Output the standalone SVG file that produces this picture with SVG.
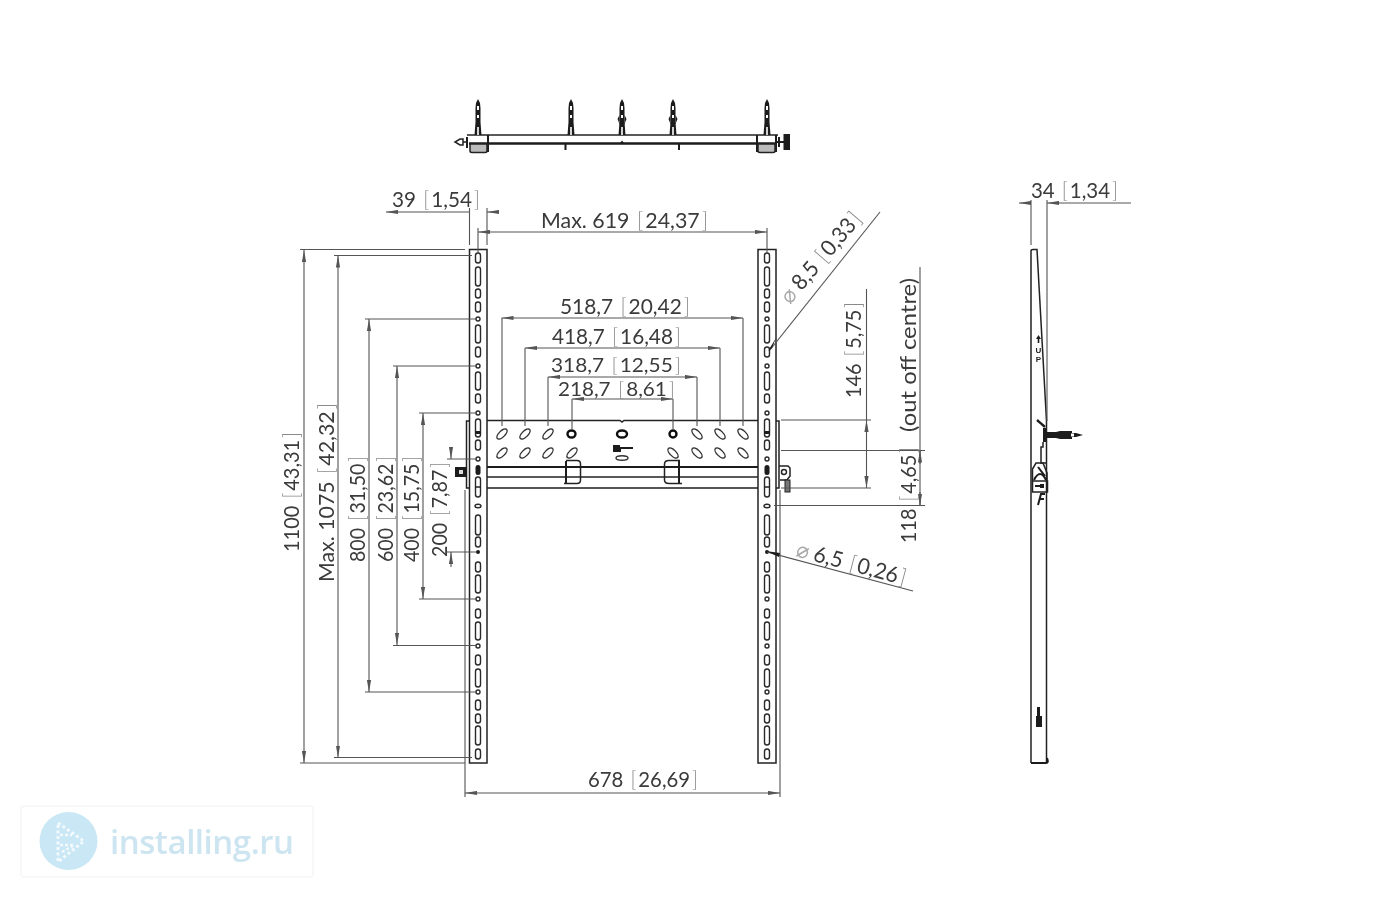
<svg xmlns="http://www.w3.org/2000/svg" xmlns:xlink="http://www.w3.org/1999/xlink" width="1400" height="900" viewBox="0 0 1400 900">
<style>
.t{font-family:"Lato","Liberation Sans",sans-serif;font-size:22px;fill:#3a3a3a;font-weight:400}
.n{font-size:20px}
.b{fill:#8a8a8a;font-weight:300}
.p{fill:#a8a8a8}
.d{fill:none;stroke:#555;stroke-width:1.1}
.e{fill:none;stroke:#555;stroke-width:1.1}
.a{marker-start:url(#ar);marker-end:url(#ar)}
.s{fill:none;stroke:#222;stroke-width:1.5}
.k{fill:none;stroke:#1c1c1c;stroke-width:2}
.f{fill:#1c1c1c;stroke:none}
.h{fill:#fff;stroke:#2a2a2a;stroke-width:1.4}
.o{fill:none;stroke:#333;stroke-width:1.4}
</style>
<defs>
<filter id="soft" x="-5%" y="-5%" width="110%" height="110%"><feGaussianBlur stdDeviation="0.35"/></filter>
<marker id="ar" viewBox="0 0 12 5" refX="12" refY="2.5" markerWidth="12" markerHeight="5" markerUnits="userSpaceOnUse" orient="auto-start-reverse"><path d="M0 0.4L12 2.5L0 4.6Z" fill="#555"/></marker>
<g id="railholes">
<rect class="h" x="475.500" y="253" width="5" height="10" rx="2.500"/>
<rect class="h" x="475.500" y="267" width="5" height="19" rx="2.500"/>
<rect class="h" x="475.500" y="289" width="5" height="9" rx="2.500"/>
<rect class="h" x="475.500" y="302" width="5" height="10" rx="2.500"/>
<circle class="h" cx="478" cy="319" r="2"/>
<rect class="h" x="475.500" y="325" width="5" height="18" rx="2.500"/>
<rect class="h" x="475.500" y="347" width="5" height="10" rx="2.500"/>
<circle class="h" cx="478" cy="366" r="2"/>
<rect class="h" x="475.500" y="372" width="5" height="18" rx="2.500"/>
<rect class="h" x="475.500" y="394" width="5" height="9" rx="2.500"/>
<circle class="h" cx="478" cy="413" r="2"/>
<rect class="h" x="475.500" y="419" width="5" height="18" rx="2.500"/>
<rect class="f" x="475.500" y="431" width="5" height="3"/>
<rect class="h" x="475.500" y="440" width="5" height="10" rx="2.500"/>
<circle class="h" cx="478" cy="459" r="2"/>
<rect class="f" x="475.500" y="465" width="5" height="10" rx="2.500"/>
<rect class="h" x="475.500" y="477" width="5" height="20" rx="2.500"/>
<line class="s" x1="475.500" y1="487" x2="480.500" y2="487"/>
<ellipse class="h" cx="478" cy="506" rx="3" ry="1.800"/>
<rect class="h" x="475.500" y="515" width="5" height="20" rx="2.500"/>
<rect class="h" x="475.500" y="537" width="5" height="10" rx="2.500"/>
<circle class="f" cx="478" cy="552" r="2"/>
<rect class="h" x="475.500" y="562" width="5" height="10" rx="2.500"/>
<rect class="h" x="475.500" y="575" width="5" height="18" rx="2.500"/>
<circle class="h" cx="478" cy="599" r="2"/>
<rect class="h" x="475.500" y="609" width="5" height="9" rx="2.500"/>
<rect class="h" x="475.500" y="622" width="5" height="18" rx="2.500"/>
<circle class="h" cx="478" cy="646" r="2"/>
<rect class="h" x="475.500" y="655" width="5" height="10" rx="2.500"/>
<rect class="h" x="475.500" y="669" width="5" height="18" rx="2.500"/>
<circle class="h" cx="478" cy="692" r="2"/>
<rect class="h" x="475.500" y="700" width="5" height="10" rx="2.500"/>
<rect class="h" x="475.500" y="714" width="5" height="9" rx="2.500"/>
<rect class="h" x="475.500" y="726" width="5" height="19" rx="2.500"/>
<rect class="h" x="475.500" y="749" width="5" height="10" rx="2.500"/>
</g>
<ellipse id="ov" class="o" cx="0" cy="0" rx="6.500" ry="3"/>
<g id="stud">
<path class="f" d="M-3.500 135L-2.500 122V108L-2 103L0 99L2 103L2.500 108V122L3.500 135Z"/>
<path d="M-1 106H1V110H-1ZM-1 115H1V118H-1ZM-0.800 127H0.800V135H-0.800Z" fill="#fff"/>
</g>
<path id="fat" class="f" d="M-4.500 119L-2.500 115V123H2.500V115L4.500 119L2.500 124H-2.500Z"/>
</defs>
<rect width="1400" height="900" fill="#fff"/>
<g filter="url(#soft)">

<g id="top-view">
<path class="s" d="M467 135H778"/>
<path class="k" d="M469 143.500H776" style="stroke-width:2.400"/>
<path class="k" d="M467 137V148M488 135V152M757 135V152M776 135V152"/>
<path d="M470 144H487V151Q487 152.500 485 152.500H472Q470 152.500 470 151Z" fill="#bbb" stroke="#222" stroke-width="1.500"/>
<path d="M758 144H775V151Q775 152.500 773 152.500H760Q758 152.500 758 151Z" fill="#bbb" stroke="#222" stroke-width="1.500"/>
<path class="s" d="M467 142H463V139H460L455 142L460 145H463V142"/>
<path class="k" d="M776 142H784M779 137V147"/>
<path class="f" d="M783.500 134H790V150H783.500Z"/>
<path class="k" d="M565.500 144V150M679 144V150"/>
<path class="f" d="M620 143L622 140.500L624 143Z"/>
<use xlink:href="#stud" href="#stud" x="478"/>
<use xlink:href="#stud" href="#stud" x="571"/>
<use xlink:href="#stud" href="#stud" x="622"/>
<use xlink:href="#stud" href="#stud" x="673"/>
<use xlink:href="#stud" href="#stud" x="767"/>
<use xlink:href="#fat" href="#fat" x="622"/>
<use xlink:href="#fat" href="#fat" x="673"/>
</g>

<g id="left-rail">
<rect class="s" x="469.500" y="249.500" width="17.500" height="513.500"/>
<use xlink:href="#railholes" href="#railholes"/>
<path class="s" d="M469 421H466.500V488H469"/>
<path class="f" d="M455 467H467V477H455Z"/>
<rect x="459" y="470" width="4" height="4" fill="#ddd"/>
</g>
<g id="right-rail">
<rect class="s" x="758" y="249.500" width="18" height="513.500"/>
<use xlink:href="#railholes" href="#railholes" x="289"/>
<path class="s" d="M776 421H779V488H776"/>
<path class="s" d="M779 466H788L790 468V476L787 480H780"/>
<circle class="s" cx="784" cy="472" r="2.500"/>
<rect x="785" y="480" width="5" height="12" fill="#777" stroke="#222"/>
</g>

<g id="bracket">
<path class="s" d="M487 420.500H620L622 422L624 420.500H758"/>
<path class="k" d="M487 467H758"/>
<path class="s" d="M487 477H758"/>
<path class="k" d="M487 488H758" style="stroke-width:1.600"/>
<path class="s" d="M566 460.500H577Q580.500 460.500 580.500 464V480Q580.500 483.500 577 483.500H564M680 460.500H669Q664.500 460.500 664.500 464V480Q664.500 483.500 669 483.500H682"/>
<path class="k" d="M566 461V483M679 461V483"/>
<use xlink:href="#ov" href="#ov" transform="translate(502 434) rotate(-45)"/>
<use xlink:href="#ov" href="#ov" transform="translate(525 434) rotate(-45)"/>
<use xlink:href="#ov" href="#ov" transform="translate(548 434) rotate(-45)"/>
<use xlink:href="#ov" href="#ov" transform="translate(502 453) rotate(-45)"/>
<use xlink:href="#ov" href="#ov" transform="translate(525 453) rotate(-45)"/>
<use xlink:href="#ov" href="#ov" transform="translate(548 453) rotate(-45)"/>
<use xlink:href="#ov" href="#ov" transform="translate(572 453) rotate(-45)"/>
<use xlink:href="#ov" href="#ov" transform="translate(673 453) rotate(45)"/>
<use xlink:href="#ov" href="#ov" transform="translate(697 453) rotate(45)"/>
<use xlink:href="#ov" href="#ov" transform="translate(720 453) rotate(45)"/>
<use xlink:href="#ov" href="#ov" transform="translate(743 453) rotate(45)"/>
<use xlink:href="#ov" href="#ov" transform="translate(697 434) rotate(45)"/>
<use xlink:href="#ov" href="#ov" transform="translate(720 434) rotate(45)"/>
<use xlink:href="#ov" href="#ov" transform="translate(743 434) rotate(45)"/>
<ellipse cx="571.500" cy="434" rx="4" ry="3.500" fill="#fff" stroke="#111" stroke-width="2.400"/>
<ellipse cx="622" cy="434" rx="5" ry="3.500" fill="#fff" stroke="#111" stroke-width="2.400"/>
<ellipse cx="673" cy="434" rx="3.500" ry="3.500" fill="#fff" stroke="#111" stroke-width="2.400"/>
<path class="f" d="M613 445H620V447H633V449H621V452H613Z"/>
<ellipse class="o" cx="622" cy="458" rx="6" ry="2.200"/>
</g>

<g id="side-view">
<path class="s" d="M1031 763V251Q1031 249.500 1033 249.500H1037L1046.500 421V763"/>
<path class="k" d="M1031 763H1046Q1049 763 1047 758" style="stroke-width:2"/>
<path class="f" d="M1037 707H1040V716H1042V727H1036V716H1037Z"/>
<text x="1038.500" y="353" text-anchor="middle" style="font-family:'Liberation Sans',sans-serif;font-size:8px;font-weight:700;fill:#222">U</text>
<text x="1038.500" y="362" text-anchor="middle" style="font-family:'Liberation Sans',sans-serif;font-size:8px;font-weight:700;fill:#222">P</text>
<path class="f" d="M1038.500 335L1041 339H1039.300V343H1037.700V339H1036Z"/>
<path class="f" d="M1043 428H1046V432H1056L1060 431H1072V433H1076L1083 435L1076 437H1072V439H1060L1056 438H1046V442H1043Z"/>
<rect x="1071" y="433.500" width="3" height="3" fill="#fff"/>
<path class="k" d="M1037 420L1045 427" style="stroke-width:2.400"/>
<path class="s" d="M1043 442V447H1041V463H1046"/>
<path class="s" d="M1032.500 481V469L1036 463H1043L1047 473V481"/>
<path class="k" d="M1034 480Q1040 468 1046 480M1038 467L1045 476"/>
<rect class="s" x="1032.500" y="481" width="15" height="11" fill="#fff"/>
<path class="f" d="M1035 485H1040V484H1044V488H1040V487H1035Z"/>
<path class="k" d="M1038 505L1041 494H1045M1040 499H1044"/>
</g>

<g id="connectors">
<path class="d a" d="M386 212H469.500M499 212H487"/>
<path class="e" d="M469.500 208V245M487 208V245"/>
<path class="d a" d="M478 232H767"/>
<path class="e" d="M478 228V253M767 228V253"/>
<path class="d a" d="M501.500 318H743"/>
<path class="d a" d="M525 348H720"/>
<path class="d a" d="M548 377H697"/>
<path class="d a" d="M572 399H673"/>
<path class="e" d="M502 318V426M743 318V426M525 348V426M720 348V426M548 377V426M697 377V426M572 399V430M673 399V430"/>
<path class="d a" d="M304 250V763"/>
<path class="e" d="M300 249.500H465M300 763H465"/>
<path class="d a" d="M338 255.500V757.500"/>
<path class="e" d="M334 255.500H472M334 757.500H472"/>
<path class="d a" d="M369 319V692"/>
<path class="e" d="M365 319H476M365 692H476"/>
<path class="d a" d="M397 366V645"/>
<path class="e" d="M393 366H476M393 645.500H476"/>
<path class="d a" d="M423 413V599"/>
<path class="e" d="M419 413H476M419 599H476"/>
<path class="d" d="M451 447V459" marker-end="url(#ar)"/>
<path class="d" d="M451 567V552" marker-end="url(#ar)"/>
<path class="e" d="M447 459H476M447 552H476"/>
<path class="d a" d="M465 793H780"/>
<path class="e" d="M465 490V797M780 490V797"/>
<path class="e" d="M770 350L880 212"/>
<path class="f" d="M768 351L776 338L772 348Z"/>
<path class="d" d="M866.500 289V420"/>
<path class="d a" d="M866.500 420V488"/>
<path class="e" d="M781 420H871M781 488H871"/>
<path class="d" d="M920 267V505"/>
<path class="d" d="M920 464V450.500" marker-end="url(#ar)"/>
<path class="d" d="M920 492V505.500" marker-end="url(#ar)"/>
<path class="e" d="M781 450.500H925M774 505.500H925"/>
<path class="e" d="M767 552L913 591"/>
<path class="f" d="M766 551L780 553L779 557Z"/>
<path class="d a" d="M1019 203H1031M1131 203H1047"/>
<path class="e" d="M1031 200V245M1047 200V421"/>
</g>

<g id="labels">
<text class="t" x="392" y="207" textLength="88" lengthAdjust="spacingAndGlyphs">39 <tspan class="b" dx="2">[</tspan><tspan dx="2">1,54</tspan><tspan class="b" dx="2">]</tspan></text>
<text class="t" x="541" y="228" textLength="167" lengthAdjust="spacingAndGlyphs">Max. 619 <tspan class="b" dx="2">[</tspan><tspan dx="2">24,37</tspan><tspan class="b" dx="2">]</tspan></text>
<text class="t" x="560" y="314" textLength="130" lengthAdjust="spacingAndGlyphs">518,7 <tspan class="b" dx="2">[</tspan><tspan dx="2">20,42</tspan><tspan class="b" dx="2">]</tspan></text>
<text class="t" x="552" y="344" textLength="129" lengthAdjust="spacingAndGlyphs">418,7 <tspan class="b" dx="2">[</tspan><tspan dx="2">16,48</tspan><tspan class="b" dx="2">]</tspan></text>
<text class="t n" x="551" y="372" textLength="130" lengthAdjust="spacingAndGlyphs">318,7 <tspan class="b" dx="2">[</tspan><tspan dx="2">12,55</tspan><tspan class="b" dx="2">]</tspan></text>
<text class="t n" x="558" y="396" textLength="117" lengthAdjust="spacingAndGlyphs">218,7 <tspan class="b" dx="2">[</tspan><tspan dx="2">8,61</tspan><tspan class="b" dx="2">]</tspan></text>
<text class="t" x="588" y="787" textLength="110" lengthAdjust="spacingAndGlyphs">678 <tspan class="b" dx="2">[</tspan><tspan dx="2">26,69</tspan><tspan class="b" dx="2">]</tspan></text>
<text class="t" x="1031" y="198" textLength="87" lengthAdjust="spacingAndGlyphs">34 <tspan class="b" dx="2">[</tspan><tspan dx="2">1,34</tspan><tspan class="b" dx="2">]</tspan></text>
<text class="t" transform="translate(299 552) rotate(-90)" textLength="120" lengthAdjust="spacingAndGlyphs">1100 <tspan class="b" dx="2">[</tspan><tspan dx="2">43,31</tspan><tspan class="b" dx="2">]</tspan></text>
<text class="t" transform="translate(334 582) rotate(-90)" textLength="179" lengthAdjust="spacingAndGlyphs">Max. 1075 <tspan class="b" dx="2">[</tspan><tspan dx="2">42,32</tspan><tspan class="b" dx="2">]</tspan></text>
<text class="t" transform="translate(365 562) rotate(-90)" textLength="106" lengthAdjust="spacingAndGlyphs">800 <tspan class="b" dx="2">[</tspan><tspan dx="2">31,50</tspan><tspan class="b" dx="2">]</tspan></text>
<text class="t" transform="translate(393 562) rotate(-90)" textLength="106" lengthAdjust="spacingAndGlyphs">600 <tspan class="b" dx="2">[</tspan><tspan dx="2">23,62</tspan><tspan class="b" dx="2">]</tspan></text>
<text class="t" transform="translate(419 562) rotate(-90)" textLength="106" lengthAdjust="spacingAndGlyphs">400 <tspan class="b" dx="2">[</tspan><tspan dx="2">15,75</tspan><tspan class="b" dx="2">]</tspan></text>
<text class="t" transform="translate(447 557) rotate(-90)" textLength="95" lengthAdjust="spacingAndGlyphs">200 <tspan class="b" dx="2">[</tspan><tspan dx="2">7,87</tspan><tspan class="b" dx="2">]</tspan></text>
<text class="t" transform="translate(861 398) rotate(-90)" textLength="96" lengthAdjust="spacingAndGlyphs">146 <tspan class="b" dx="2">[</tspan><tspan dx="2">5,75</tspan><tspan class="b" dx="2">]</tspan></text>
<text class="t" transform="translate(916 432) rotate(-90)" textLength="154" lengthAdjust="spacingAndGlyphs">(out off centre)</text>
<text class="t" transform="translate(916 543) rotate(-90)" textLength="96" lengthAdjust="spacingAndGlyphs">118 <tspan class="b" dx="2">[</tspan><tspan dx="2">4,65</tspan><tspan class="b" dx="2">]</tspan></text>
<text class="t" transform="translate(790 305) rotate(-49.500)" textLength="112" lengthAdjust="spacingAndGlyphs"><tspan class="p">⌀</tspan> 8,5 <tspan class="b" dx="2">[</tspan><tspan dx="2">0,33</tspan><tspan class="b" dx="2">]</tspan></text>
<text class="t" transform="translate(795 556) rotate(15)" textLength="113" lengthAdjust="spacingAndGlyphs"><tspan class="p">⌀</tspan> 6,5 <tspan class="b" dx="2">[</tspan><tspan dx="2">0,26</tspan><tspan class="b" dx="2">]</tspan></text>
</g>

<g id="logo">
<rect x="21" y="806" width="292" height="71" rx="3" fill="#fff" stroke="#f6f6f6" stroke-width="1.500"/>
<circle cx="68.500" cy="841" r="29" fill="#c9e7f5"/>
<path d="M58 823L84 841L58 862Z" fill="none" stroke="#f2fafd" stroke-width="3" stroke-dasharray="3 2.500"/>
<path d="M60 835H72M60 845H74M62 852L74 845" fill="none" stroke="#f2fafd" stroke-width="2.500" stroke-dasharray="3 2"/>
<text x="110" y="854" textLength="184" style="font-family:'Open Sans','Liberation Sans',sans-serif;font-size:33px;font-weight:600;fill:#cde5f1">installing.ru</text>
</g>
</g>
</svg>
